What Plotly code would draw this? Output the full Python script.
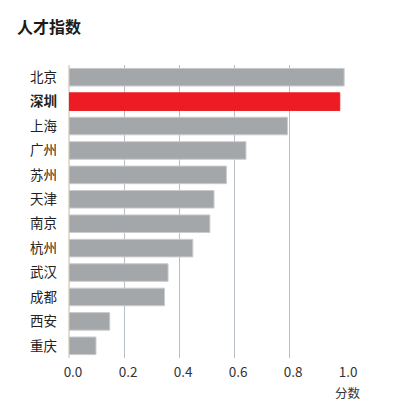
import plotly.graph_objects as go

cities = ["北京", "深圳", "上海", "广州", "苏州", "天津", "南京", "杭州", "武汉", "成都", "西安", "重庆"]
scores = [1.0, 0.984, 0.794, 0.643, 0.572, 0.527, 0.512, 0.450, 0.360, 0.347, 0.148, 0.098]
highlight = "深圳"
x_ticks = [0.0, 0.2, 0.4, 0.6, 0.8, 1.0]
x_tick_text = ["0.0", "0.2", "0.4", "0.6", "0.8", "1.0"]

GRAY = "#a4a7aa"
RED = "#ed1c24"
colors = [RED if c == highlight else GRAY for c in cities]
line_colors = [RED if c == highlight else "#c9cbcd" for c in cities]
tick_text = [f"<b>{c}</b>" if c == highlight else c for c in cities]

FONT = "Noto Sans CJK SC"

fig = go.Figure(go.Bar(
    x=scores, y=cities, orientation="h",
    marker=dict(color=colors, line=dict(color=line_colors, width=1)),
    width=0.72, hoverinfo="x+y",
))

fig.update_layout(
    width=396, height=417,
    margin=dict(l=69, r=51, t=65, b=59),
    paper_bgcolor="white", plot_bgcolor="white",
    font=dict(family=FONT, size=13, color="#333333"),
    showlegend=False,
    title=dict(text="<b>人才指数</b>", x=17 / 396, xref="container", xanchor="left",
               y=1 - 27 / 417, yanchor="middle",
               font=dict(family=FONT, size=16, color="#1a1a1a")),
    xaxis=dict(range=[0, 1.003], tickvals=x_ticks, ticktext=x_tick_text,
               showgrid=True, gridcolor="#b7bec5", gridwidth=1,
               zeroline=True, zerolinecolor="#e3dccf", zerolinewidth=1.5,
               showline=False, ticks="", ticklabelshift=4, ticklabelstandoff=4,
               tickfont=dict(family=FONT, size=13.5, color="#333333"),
               fixedrange=True),
    yaxis=dict(tickvals=cities, ticktext=tick_text, autorange="reversed",
               showgrid=False, showline=False, zeroline=False, ticks="",
               ticklabelstandoff=11,
               tickfont=dict(family=FONT, size=13.5, color="#222222"),
               fixedrange=True),
)

plot_h = 417 - 65 - 59
fig.add_annotation(text="分数", x=1.0, xref="x", y=(417 - 59 - 392) / plot_h, yref="paper",
                   xshift=4, showarrow=False, xanchor="center", yanchor="middle",
                   font=dict(family=FONT, size=12.5, color="#333333"))

fig.write_html("out.html")
